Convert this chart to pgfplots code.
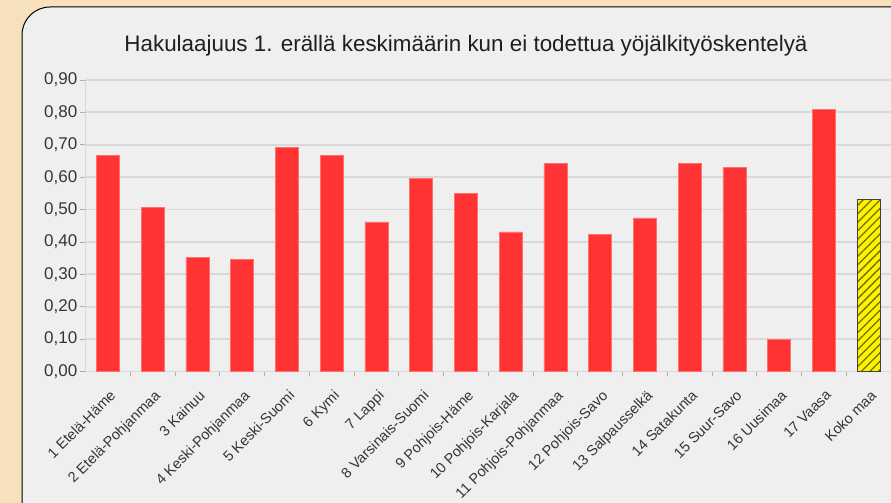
\documentclass[border=0pt]{standalone}
\usepackage{fontspec}
\setmainfont{Liberation Sans}
\usepackage{pgfplots}
\pgfplotsset{compat=1.18}
\usetikzlibrary{patterns.meta}

\definecolor{outerbg}{HTML}{F7E1BC}
\definecolor{panelbg}{HTML}{EFEFEF}
\definecolor{barred}{HTML}{FF3333}
\definecolor{gridgray}{HTML}{D9D9D9}
\definecolor{labelgray}{HTML}{353535}
\definecolor{hatch}{HTML}{6E6E10}

\pgfplotstableread{
x y
0 0.667
1 0.506
2 0.352
3 0.346
4 0.692
5 0.667
6 0.462
7 0.597
8 0.551
9 0.431
10 0.643
11 0.424
12 0.474
13 0.642
14 0.629
15 0.100
16 0.810
}\regions

\pgfplotstableread{
x y
17 0.530
}\whole

\begin{document}
\begin{tikzpicture}[x=1pt,y=1pt]
\useasboundingbox (0,0) rectangle (891,503);
\fill[outerbg] (0,0) rectangle (891,503);
\begin{scope}
\clip (0,0) rectangle (891,503);
\draw[fill=panelbg, line width=1pt, rounded corners=28pt] (22,-30) rectangle (920,496);
\end{scope}
\node[font=\fontsize{22.4}{26}\selectfont, text=black!88] at (466,457)
  {Hakulaajuus 1. erällä keskimäärin kun ei todettua yöjälkityöskentelyä};

\begin{axis}[
  at={(85.5pt,131.5pt)}, anchor=south west,
  scale only axis, width=805.5pt, height=291.5pt,
  xmin=-0.5, xmax=17.5, ymin=0, ymax=0.9,
  ytick={0,0.1,...,0.9},
  xtick={0,...,17},
  xticklabels={1 Etelä-Häme, 2 Etelä-Pohjanmaa, 3 Kainuu, 4 Keski-Pohjanmaa,
    5 Keski-Suomi, 6 Kymi, 7 Lappi, 8 Varsinais-Suomi, 9 Pohjois-Häme,
    10 Pohjois-Karjala, 11 Pohjois-Pohjanmaa, 12 Pohjois-Savo, 13 Salpausselkä,
    14 Satakunta, 15 Suur-Savo, 16 Uusimaa, 17 Vaasa, Koko maa},
  minor xtick={0.5,1.5,...,16.5},
  major x tick style={draw=none},
  minor tick length=5pt,
  major tick length=6pt,
  tick align=outside,
  tick pos=left,
  tick style={gridgray!80!black, line width=0.8pt},
  axis x line*=bottom, axis y line*=left,
  axis line style={gridgray, line width=1.2pt},
  ymajorgrids, major grid style={gridgray, line width=1.8pt},
  yticklabel style={font=\fontsize{17}{20}\selectfont, text=labelgray, inner sep=2pt,
    /pgf/number format/.cd, fixed, fixed zerofill, precision=2, use comma,
    assume math mode=true},
  xticklabel style={font=\fontsize{14.5}{17}\selectfont, text=labelgray,
    rotate=45, anchor=north east, inner sep=1pt, xshift=-6.4pt, yshift=-7.8pt},
  ybar, bar width=23pt,
  axis background/.style={fill=panelbg},
  clip=false,
]
\addplot[bar shift=0pt, fill=barred, draw=barred!70!white, line width=0.6pt] table {\regions};
\addplot[bar shift=0pt, fill=yellow, draw=black!75, line width=0.8pt,
  postaction={pattern={Lines[angle=45,distance=6pt,line width=1.3pt]}, pattern color=hatch}] table {\whole};
\end{axis}
\end{tikzpicture}
\end{document}
